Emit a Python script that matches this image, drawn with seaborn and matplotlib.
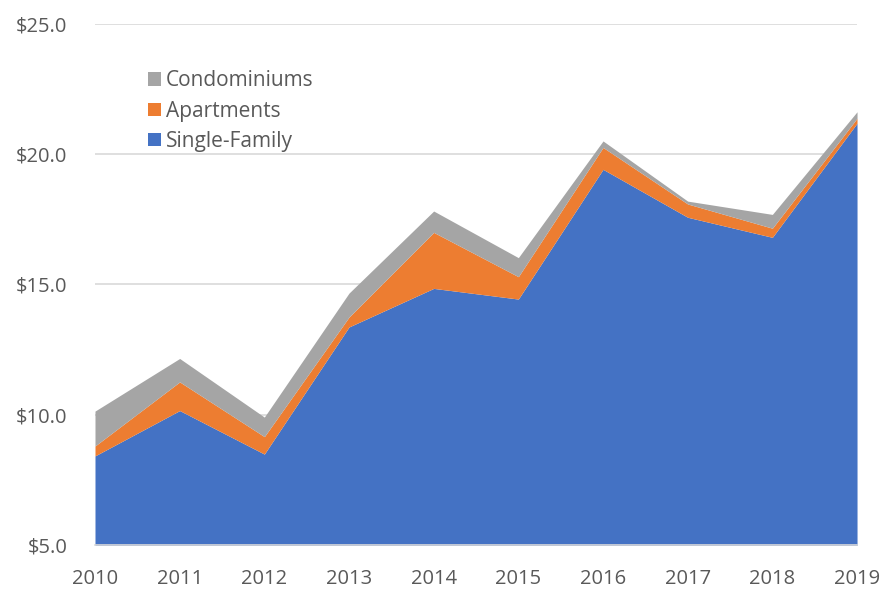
import matplotlib
matplotlib.use("Agg")
import matplotlib.pyplot as plt
import seaborn as sns
from matplotlib.ticker import FuncFormatter, MultipleLocator

# values (stacked components, $ billions)
years = [2010, 2011, 2012, 2013, 2014, 2015, 2016, 2017, 2018, 2019]
single_family = [8.42, 10.16, 8.49, 13.37, 14.85, 14.44, 19.42, 17.58, 16.81, 21.19]
apartments = [0.38, 1.10, 0.67, 0.38, 2.15, 0.86, 0.84, 0.51, 0.35, 0.19]
condominiums = [1.34, 0.90, 0.75, 0.92, 0.82, 0.73, 0.25, 0.11, 0.53, 0.25]

labels = ["Single-Family", "Apartments", "Condominiums"]
colors = ["#4472C4", "#ED7D31", "#A5A5A5"]

sns.set_style("white")
plt.rcParams["font.family"] = ["Open Sans", "DejaVu Sans"]
text_color = "#595959"

fig = plt.figure(figsize=(8.92, 5.89), dpi=100)
ax = fig.add_axes([0.1065, 0.0747, 0.8543, 0.8846])

ax.stackplot(years, single_family, apartments, condominiums,
             labels=labels, colors=colors, zorder=2, linewidth=0)

ax.set_xlim(years[0], years[-1])
ax.set_ylim(5, 25)
ax.yaxis.set_major_locator(MultipleLocator(5))
ax.yaxis.set_major_formatter(FuncFormatter(lambda v, p: f"${v:.1f}"))
ax.set_xticks(years)
ax.set_xticklabels([str(y) for y in years])

ax.grid(axis="y", color="#D9D9D9", linewidth=1.2, zorder=0)
ax.set_axisbelow(True)
sns.despine(ax=ax, left=True, right=True, top=True)
ax.spines["bottom"].set_color("#D9D9D9")
ax.spines["bottom"].set_linewidth(1.2)
ax.spines["bottom"].set_zorder(3)

ax.tick_params(axis="x", direction="out", length=6, width=1.2, color="#D9D9D9",
               labelsize=14.5, labelcolor=text_color, pad=11)
ax.tick_params(axis="y", length=0, labelsize=14.5, labelcolor=text_color, pad=20)

handles, lbls = ax.get_legend_handles_labels()
leg = ax.legend(handles[::-1], lbls[::-1], loc="upper left",
                bbox_to_anchor=(0.059, 0.927), frameon=False, fontsize=15,
                handlelength=0.6, handleheight=0.6, handletextpad=0.25,
                labelspacing=0.45, borderaxespad=0)
for t in leg.get_texts():
    t.set_color(text_color)

fig.savefig("out.png", dpi=100)
